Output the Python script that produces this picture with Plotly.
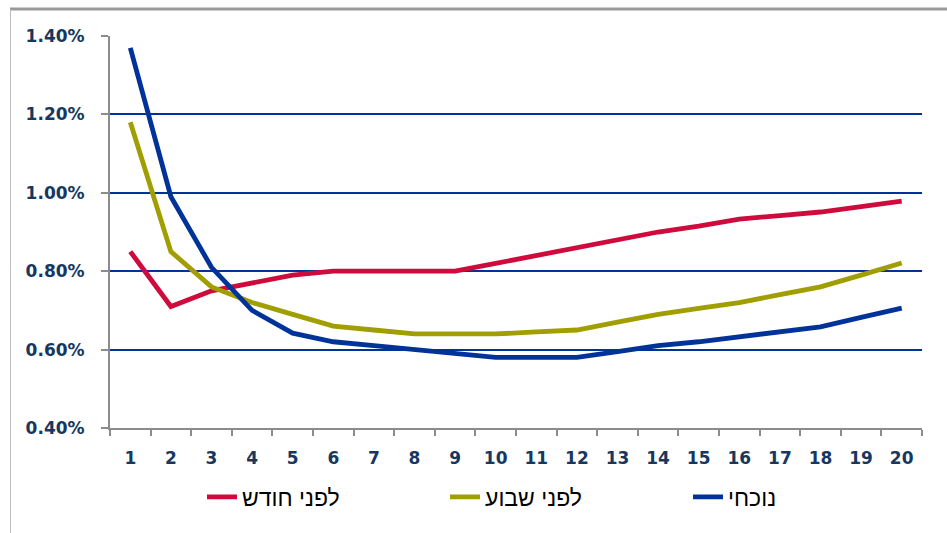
import plotly.graph_objects as go

categories = [str(i) for i in range(1, 21)]
month_ago = [0.85, 0.71, 0.75, 0.77, 0.79, 0.80, 0.80, 0.80, 0.80, 0.82,
             0.84, 0.86, 0.88, 0.90, 0.915, 0.933, 0.942, 0.951, 0.965, 0.979]
week_ago = [1.18, 0.85, 0.76, 0.72, 0.69, 0.66, 0.65, 0.64, 0.64, 0.64,
            0.645, 0.65, 0.67, 0.69, 0.705, 0.72, 0.74, 0.76, 0.79, 0.821]
current = [1.37, 0.99, 0.81, 0.70, 0.642, 0.62, 0.61, 0.60, 0.59, 0.58,
           0.58, 0.58, 0.595, 0.61, 0.62, 0.632, 0.645, 0.658, 0.682, 0.706]
series_names = ["לפני חודש", "לפני שבוע", "נוכחי"]
y_ticks = [0.4, 0.6, 0.8, 1.0, 1.2, 1.4]

W, H = 947, 533
L, R, T, B = 110, 922, 36, 428

fig = go.Figure()
colors = ["#CF0A3C", "#A09E00", "#00339A"]
for name, vals, c in zip(series_names, [month_ago, week_ago, current], colors):
    fig.add_trace(go.Scatter(x=categories, y=vals, name=name, mode="lines",
                             line=dict(color=c, width=4.8)))

def px_x(p):
    return (p - L) / (R - L)

def px_y(p):
    return (B - p) / (B - T)

fig.update_layout(
    width=W, height=H,
    margin=dict(l=L, r=W - R, t=T, b=H - B),
    paper_bgcolor="white", plot_bgcolor="white",
    showlegend=True,
    legend=dict(orientation="h", x=px_x(202), xanchor="left",
                y=px_y(497), yanchor="middle",
                font=dict(family="Liberation Sans, Arial", size=23, color="black"),
                entrywidth=198, entrywidthmode="pixels",
                bgcolor="rgba(0,0,0,0)"),
    xaxis=dict(type="category", showgrid=False, showline=True, linecolor="#8C8C8C",
               linewidth=2, ticks="outside", tickson="boundaries", ticklen=6,
               tickwidth=2, tickcolor="#8C8C8C", ticklabelstandoff=14,
               tickfont=dict(family="DejaVu Sans", size=17, color="#17375E",
                             weight="bold"),
               range=[-0.5, 19.5], fixedrange=True),
    yaxis=dict(range=[0.4, 1.4], tickvals=y_ticks,
               ticktext=[f"{v:.2f}%" for v in y_ticks],
               showgrid=True, gridcolor="#00339A", gridwidth=1.6,
               showline=True, linecolor="#8C8C8C", linewidth=2,
               ticks="outside", ticklen=7, tickwidth=2, tickcolor="#8C8C8C",
               ticklabelstandoff=13, zeroline=False,
               tickfont=dict(family="DejaVu Sans", size=17, color="#17375E",
                             weight="bold")),
    shapes=[
        dict(type="line", xref="paper", yref="paper",
             x0=px_x(10), x1=px_x(960), y0=px_y(9), y1=px_y(9),
             line=dict(color="#9A9A9A", width=3)),
        dict(type="line", xref="paper", yref="paper",
             x0=px_x(10.5), x1=px_x(10.5), y0=px_y(9), y1=px_y(545),
             line=dict(color="#BDBDBD", width=1)),
    ],
)

fig.write_html("out.html")
